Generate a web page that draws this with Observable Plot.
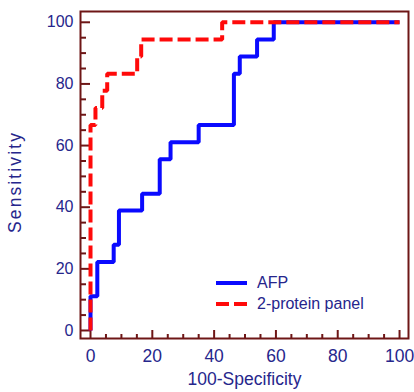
<!DOCTYPE html>
<html><head><meta charset="utf-8">
<script src="https://cdn.jsdelivr.net/npm/d3@7"></script>
<script src="https://cdn.jsdelivr.net/npm/@observablehq/plot@0.6"></script>
<style>
body{margin:0;background:#fff;}
#chart{position:relative;width:414px;height:392px;font-family:"Liberation Sans",Arial,sans-serif;}
.leg{position:absolute;left:215px;display:flex;align-items:center;font-size:16px;color:#26268c;white-space:nowrap;}
.leg svg{margin-right:10px;}
</style></head><body><div id="chart"></div>
<script>
// ROC data (100-Specificity, Sensitivity)
const afpFpr = [0, 0, 2.2, 7.5, 9.2, 16.7, 22.4, 25.9, 35.0, 46.4, 48.3, 53.9, 59.3, 100];
const afpTpr = [0, 11.1, 22.2, 27.8, 38.9, 44.4, 55.6, 61.1, 66.7, 83.3, 88.9, 94.4, 100, 100];
const panelFpr = [0, 0, 1.6, 3.8, 5.4, 15.1, 16.4, 42.6, 100];
const panelTpr = [0, 66.7, 72.2, 77.8, 83.3, 88.9, 94.4, 100, 100];
const seriesNames = ["AFP", "2-protein panel"];
const xTitle = "100-Specificity";
const yTitle = "Sensitivity";
const majorTicks = [0, 20, 40, 60, 80, 100];
const minorTicks = [5, 10, 15, 25, 30, 35, 45, 50, 55, 65, 70, 75, 85, 90, 95];

const blue = "#0a0aff", red = "#ff0a0a", frameColor = "#6e1616", textColor = "#26268c";
const afp = afpFpr.map((x, i) => ({x, y: afpTpr[i]}));
const panel = panelFpr.map((x, i) => ({x, y: panelTpr[i]}));

const W = 414, H = 392, mL = 80, mR = 6, mT = 11, mB = 54;
const fw = W - mL - mR, fh = H - mT - mB;

const chart = Plot.plot({
  width: W, height: H,
  marginLeft: mL, marginRight: mR, marginTop: mT, marginBottom: mB,
  x: {domain: [-3.24, 102.9]},
  y: {domain: [-2.6, 103.5]},
  style: {fontFamily: "'Liberation Sans', Arial, sans-serif", fontSize: "16px", color: textColor, background: "white"},
  marks: [
    Plot.ruleY(majorTicks, {stroke: frameColor, strokeWidth: 2, insetRight: fw - 10}),
    Plot.ruleY(minorTicks, {stroke: frameColor, strokeWidth: 2, insetRight: fw - 6}),
    Plot.ruleX(majorTicks, {stroke: frameColor, strokeWidth: 2, insetTop: fh - 8}),
    Plot.ruleX(minorTicks, {stroke: frameColor, strokeWidth: 2, insetTop: fh - 4}),
    Plot.line(afp, {x: "x", y: "y", curve: "step-after", stroke: blue, strokeWidth: 4, strokeLinejoin: "miter", strokeLinecap: "butt"}),
    Plot.line(panel, {x: "x", y: "y", curve: "step-after", stroke: red, strokeWidth: 4, strokeDasharray: "13,5", strokeLinejoin: "miter", strokeLinecap: "butt"}),
    Plot.frame({stroke: frameColor, strokeWidth: 2}),
    Plot.axisX(majorTicks, {tickSize: 0, tickPadding: 11, fill: textColor, label: xTitle, labelAnchor: "center", labelArrow: "none", labelOffset: 46, fontSize: 17.5}),
    Plot.axisY(majorTicks, {tickSize: 0, tickPadding: 7, fill: textColor, label: null, fontSize: 16}),
    Plot.text([yTitle], {text: d => d, frameAnchor: "left", rotate: -90, textAnchor: "start", dx: -65, dy: 58, fill: textColor, fontSize: 17.5, className: "ytitle"})
  ]
});
d3.select(chart).selectAll(".ytitle text").attr("textLength", 100).attr("lengthAdjust", "spacing");
document.getElementById("chart").appendChild(chart);

// legend
const legendStyles = [{color: blue, dash: null, top: 274}, {color: red, dash: "13,5", top: 295}];
seriesNames.forEach((name, i) => {
  const s = legendStyles[i];
  const div = document.createElement("div");
  div.className = "leg";
  div.style.top = s.top + "px";
  div.innerHTML = `<svg width="32" height="16"><line x1="1" x2="32" y1="8" y2="8" stroke="${s.color}" stroke-width="4" ${s.dash ? `stroke-dasharray="${s.dash}"` : ""}/></svg><span>${name}</span>`;
  document.getElementById("chart").appendChild(div);
});
</script></body></html>
